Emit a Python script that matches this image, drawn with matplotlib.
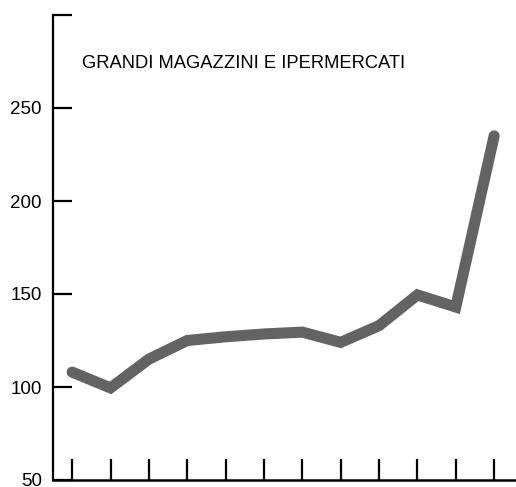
import matplotlib.pyplot as plt

# index values (12 periods, no labels on x)
periods = list(range(12))
values = [108, 99.5, 115, 125, 127, 128.5, 129.5, 124, 133, 149.5, 143, 235]
yticks = [50, 100, 150, 200, 250, 300]
ylabels = ["50", "100", "150", "200", "250", ""]
title = "GRANDI MAGAZZINI E IPERMERCATI"

fig = plt.figure(figsize=(5.16, 4.87), dpi=100)
ax = fig.add_axes([53/516, 7/487, (516-53)/516, (480-15)/487])

ax.plot(periods, values, color="#636363", linewidth=8,
        solid_capstyle="round", solid_joinstyle="miter")

ax.set_xlim(-0.5, 11.57)
ax.set_ylim(50, 300)
ax.set_xticks(periods)
ax.set_xticklabels([])
ax.set_yticks(yticks)
ax.set_yticklabels(ylabels, fontsize=13.5, family="Liberation Sans")

ax.tick_params(axis="x", direction="in", length=15, width=1.6, color="black")
ax.tick_params(axis="y", direction="in", length=14, width=1.6, color="black", pad=8)

for s in ["top", "right"]:
    ax.spines[s].set_visible(False)
ax.spines["left"].set_linewidth(1.6)
ax.spines["bottom"].set_linewidth(1.8)

ax.text(82/516, 1 - 63/487, title, transform=fig.transFigure,
        fontsize=13.2, family="Liberation Sans", va="center", ha="left")

fig.savefig("out.png", dpi=100)
